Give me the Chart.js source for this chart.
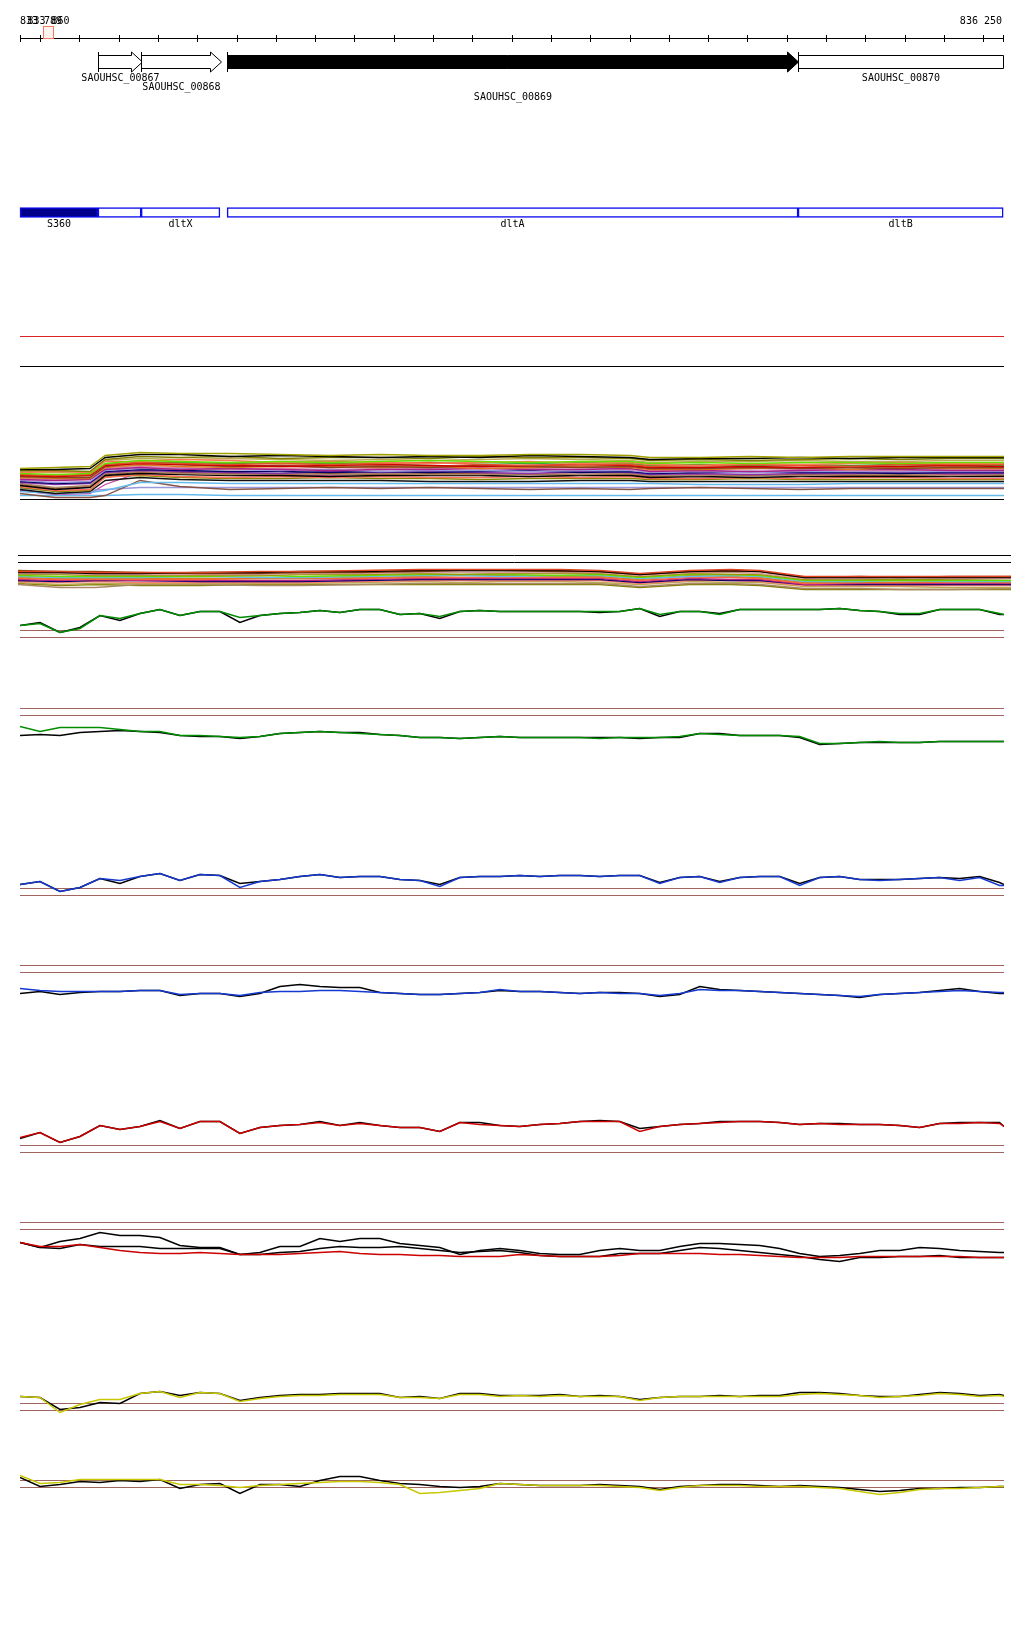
<!DOCTYPE html>
<html>
<head>
<meta charset="utf-8">
<title>dlt locus</title>
<script src="https://cdn.jsdelivr.net/npm/chart.js@4.4.1/dist/chart.umd.min.js"></script>
<style>
  body { margin: 0; background: #fff; }
  #page { position: relative; width: 1024px; height: 1640px; overflow: hidden; }
  #page canvas { position: absolute; left: 0; }
</style>
</head>
<body>
<div id="page">
  <canvas id="mapChart" width="1024" height="240"></canvas>
  <canvas id="band1" width="1024" height="175"></canvas>
  <canvas id="band2" width="1024" height="47"></canvas>
  <canvas id="g1" width="1024" height="50"></canvas>
  <canvas id="g2" width="1024" height="50"></canvas>
  <canvas id="b1" width="1024" height="45"></canvas>
  <canvas id="b2" width="1024" height="50"></canvas>
  <canvas id="r1" width="1024" height="55"></canvas>
  <canvas id="r2" width="1024" height="60"></canvas>
  <canvas id="y1" width="1024" height="40"></canvas>
  <canvas id="y2" width="1024" height="40"></canvas>
</div>
<script>
// Vista del locus dlt (coordenadas en pb)
const viewStart = 833789;
const viewEnd = 836250;

// Regla
const rulerFirst = 833839;
const rulerStep = 98.3;
const cursorRange = [833847, 833872];

// Genes
const geneNames = ['SAOUHSC_00867', 'SAOUHSC_00868', 'SAOUHSC_00869', 'SAOUHSC_00870'];
const geneStarts = [833984, 834092, 834307, 835735];
const geneEnds = [834094, 834292, 835735, 836520];
const selectedGene = 'SAOUHSC_00869';

// Dominios / operon
const domainNames = ['S360', '', 'dltX', 'dltA', 'dltB'];
const domainStarts = [833789, 833984, 834092, 834307, 835735];
const domainEnds = [833984, 834092, 834289, 835735, 836248];
const filledDomain = 'S360';

// Umbrales de las pistas de señal
const thresholds = [0, 7];

// Posiciones de muestreo (cada 50 pb)
const samplePos = [];
for (let p = viewStart; p < viewEnd; p += 50) samplePos.push(p);
samplePos.push(viewEnd);

// Pista verde 1
const g1Black = [12,15,5,10,22,17,24,28,22,26, 26,15,22,24,25,27,25,28,28,23, 24,19,26,27,26,26,26,26,26,25, 26,29,21,26,26,24,28,28,28,28, 28,29,27,26,23,23,28,28,28,23, 23];
const g1Green = [12,14,5,9,22,19,24,28,22,26, 26,20,22,24,25,27,25,28,28,23, 24,21,26,27,26,26,26,26,26,26, 26,29,23,26,26,23,28,28,28,28, 28,29,27,26,24,24,28,28,28,24, 23];
// Pista verde 2
const g2Black = [-20,-19,-20,-17,-16,-15,-16,-17,-20,-21, -21,-23,-21,-18,-17,-16,-17,-17,-19,-20, -22,-22,-23,-22,-21,-22,-22,-22,-22,-22, -22,-23,-22,-22,-18,-18,-20,-20,-20,-22, -29,-28,-27,-27,-27,-27,-26,-26,-26,-26, -26];
const g2Green = [-11,-16,-12,-12,-12,-14,-16,-16,-20,-20, -21,-22,-21,-18,-17,-16,-17,-18,-19,-20, -22,-22,-23,-22,-21,-22,-22,-22,-22,-23, -22,-22,-22,-21,-18,-19,-20,-20,-20,-21, -28,-28,-27,-26,-27,-27,-26,-26,-26,-26, -26];
// Pista azul 1
const b1Black = [11,14,4,8,17,12,19,22,15,21, 20,12,14,16,19,21,18,19,19,16, 15,11,18,19,19,20,19,20,20,19, 20,20,13,18,19,14,18,19,19,12, 18,19,16,16,16,17,18,17,19,13, 11];
const b1Blue = [11,14,4,8,17,15,19,22,15,21, 20,8,14,16,19,21,18,19,19,16, 15,9,18,19,19,20,19,20,20,19, 20,20,12,18,19,13,18,19,19,10, 18,19,16,15,16,17,18,15,18,10, 10];
// Pista azul 2
const b2Black = [-21,-19,-22,-20,-19,-19,-18,-18,-23,-21, -21,-24,-21,-14,-12,-14,-15,-15,-20,-21, -22,-22,-21,-20,-18,-19,-19,-20,-21,-20, -20,-21,-24,-22,-14,-17,-18,-19,-20,-21, -22,-23,-25,-22,-21,-20,-18,-16,-19,-21, -21];
const b2Blue = [-16,-18,-19,-19,-19,-19,-18,-18,-22,-21, -21,-23,-20,-19,-19,-18,-18,-19,-20,-21, -22,-22,-21,-20,-17,-19,-19,-20,-21,-20, -21,-21,-23,-21,-17,-18,-18,-19,-20,-21, -22,-23,-24,-22,-21,-20,-19,-18,-19,-20, -20];
// Pista roja 1
const r1Black = [14,20,10,16,27,23,26,32,24,31, 31,19,25,27,28,31,27,30,27,25, 25,21,30,30,27,26,28,29,31,32, 31,24,26,28,29,31,31,31,30,28, 29,29,28,28,27,25,29,30,30,30, 26];
const r1Red = [15,20,10,16,27,23,26,31,24,31, 31,19,25,27,28,30,27,29,27,25, 25,21,30,28,27,26,28,29,31,31, 31,21,26,28,29,30,31,31,30,28, 29,28,28,28,27,25,29,29,30,29, 26];
// Pista roja 2
const r2BlackA = [-13,-18,-12,-9,-3,-6,-6,-8,-16,-18, -18,-25,-23,-17,-17,-9,-12,-9,-9,-14, -16,-18,-25,-21,-19,-21,-24,-25,-25,-21, -19,-21,-21,-17,-14,-14,-15,-16,-19,-24, -27,-26,-24,-21,-21,-18,-19,-21,-22,-23, -23];
const r2BlackB = [-13,-18,-19,-15,-17,-17,-17,-19,-19,-19, -19,-25,-25,-23,-22,-19,-17,-18,-18,-17, -19,-21,-23,-22,-21,-23,-26,-27,-27,-27, -24,-24,-24,-21,-18,-19,-21,-23,-25,-27, -30,-32,-28,-28,-27,-27,-26,-28,-28,-28, -28];
const r2Red = [-13,-17,-17,-15,-18,-21,-23,-24,-24,-23, -24,-25,-25,-25,-24,-23,-22,-24,-25,-25, -26,-26,-27,-27,-27,-25,-26,-27,-27,-27, -26,-24,-24,-24,-24,-25,-25,-26,-27,-28, -28,-28,-27,-27,-27,-27,-27,-27,-28,-28, -28];
// Pista amarilla 1
const y1Black = [14,13,1,3,8,7,17,19,15,18, 17,10,13,15,16,16,17,17,17,13, 14,12,17,17,15,15,15,16,14,15, 14,11,13,14,14,15,14,15,15,18, 18,17,15,14,14,16,18,17,15,16, 15];
const y1Yellow = [14,13,-2,6,11,11,17,19,13,18, 17,9,12,14,15,15,16,16,16,13, 13,12,16,16,14,15,14,15,14,14, 14,10,13,14,14,14,14,14,14,16, 17,16,15,13,14,15,17,16,14,15, 14];
// Pista amarilla 2
const y2Black = [10,1,3,6,5,7,6,8,-1,3, 4,-6,3,3,1,7,11,11,7,4, 3,1,0,1,4,3,2,2,2,3, 2,1,-2,1,2,3,3,2,1,2, 1,0,-2,-4,-3,-1,-1,0,0,1, 1];
const y2Yellow = [12,4,5,8,8,8,8,8,3,3, 2,0,2,3,4,5,6,6,5,3, -6,-5,-3,-1,4,3,2,2,2,2, 1,0,-3,0,2,2,2,1,1,1, 0,-1,-4,-7,-5,-2,-1,-1,0,1, 1];

// Banda de perfiles 1 (muchas cepas)
const band1Pos = [833789, 833877, 833964, 834002, 834089, 834189, 834314, 834439, 834564, 834689, 834814, 834939, 835064, 835189, 835315, 835365, 835490, 835615, 835740, 835865, 835990, 836115, 836250];
const band1Refs = [0, 133];
const band1Limit = 163;
const band1Series = [
  [31,32,33,44,47,46,46,45,44,45,44,44,45,45,44,42,42,43,42,43,43,43,43],
  [30,30,31,42,45,45,43,44,43,42,43,42,44,43,42,40,41,41,42,41,42,42,42],
  [29,29,28,40,43,42,43,41,42,42,41,43,42,42,41,39,40,39,40,41,40,41,41],
  [26,25,26,36,39,38,37,38,37,38,39,38,37,38,38,36,37,36,37,37,36,37,37],
  [27,28,27,38,38,40,39,37,38,37,36,37,38,36,37,35,34,36,35,36,37,36,36],
  [25,24,25,35,37,36,35,36,35,36,37,35,34,35,35,33,34,35,34,33,35,35,35],
  [28,27,28,39,41,40,41,40,39,40,39,40,41,40,39,37,38,38,39,38,38,39,39],
  [24,23,24,34,36,35,34,33,34,35,34,33,34,35,34,32,32,33,32,33,33,34,33],
  [23,22,22,33,37,35,33,34,32,33,32,34,33,32,33,31,31,32,31,32,31,32,32],
  [22,21,21,32,35,33,32,33,33,32,33,31,32,33,32,30,30,31,32,30,32,31,31],
  [20,19,20,30,32,30,31,30,29,30,30,31,30,30,31,28,29,28,29,30,30,29,29],
  [21,20,20,31,33,32,30,31,32,31,31,32,31,32,30,29,30,31,30,29,29,30,30],
  [19,17,18,29,31,31,30,29,30,28,29,29,28,29,29,27,28,27,28,28,28,28,28],
  [18,16,17,28,30,29,28,28,27,28,27,28,29,27,28,26,27,28,27,27,26,27,27],
  [17,15,16,27,29,28,27,26,28,27,28,27,26,28,27,25,26,25,26,26,27,26,26],
  [16,12,14,26,28,26,25,26,25,26,25,25,26,25,26,24,24,25,24,25,25,24,25],
  [14,10,12,24,26,25,24,24,23,24,24,24,23,24,24,22,23,22,23,23,23,23,23],
  [15,11,13,25,27,27,26,25,26,25,26,26,25,25,25,23,24,24,25,24,24,24,24],
  [13,9,10,22,25,23,22,23,22,23,22,22,23,22,23,21,21,22,21,22,22,21,21],
  [12,8,9,23,24,22,21,21,22,21,21,20,21,21,21,20,20,21,20,20,20,20,20],
  [10,6,8,19,22,20,19,19,19,19,18,18,18,19,19,18,18,18,18,18,18,18,18],
  [8,6,7,9,17,17,16,16,16,16,16,16,16,16,16,16,15,15,15,16,16,16,16],
  [6,2,2,4,19,13,10,11,12,11,12,11,10,11,10,11,12,11,10,11,11,11,11],
  [11,9,9,10,12,12,12,12,12,12,12,12,12,12,12,12,12,12,12,12,12,12,12],
  [4,4,4,4,5,5,4,4,4,4,4,4,4,4,4,4,4,4,4,4,4,4,4],
  [9,5,6,15,27,26,26,25,24,26,25,26,26,25,26,24,25,24,25,25,26,25,25],
  [23,24,24,35,37,37,36,37,36,35,36,37,36,37,36,34,35,34,35,34,35,34,34],
  [21,22,22,32,34,35,34,34,35,34,33,34,34,33,34,32,33,33,32,33,33,33,32]
];

// Banda de perfiles 2
const band2Pos = [833789, 833893, 833980, 834091, 834240, 834389, 834488, 834637, 834785, 834884, 834984, 835132, 835231, 835330, 835454, 835554, 835628, 835739, 835876, 835975, 836099, 836250];
const band2Refs = [30, 37];
const band2Series = [
  [21,21,20,20,20,21,21,22,23,23,23,23,22,19,22,23,22,16,16,16,16,16],
  [20,20,19,19,20,20,21,21,22,22,22,22,21,18,21,22,21,15,15,15,15,15],
  [22,21,21,20,19,19,20,20,21,22,22,21,21,18,21,21,21,15,16,15,16,16],
  [19,19,18,18,18,18,19,19,20,20,20,20,20,17,20,20,19,14,14,15,14,14],
  [18,18,17,17,17,17,18,18,19,18,19,19,19,16,19,18,18,13,13,13,13,14],
  [17,16,16,16,16,17,16,17,18,18,18,17,18,15,18,18,17,12,12,12,12,12],
  [16,15,15,15,16,15,15,16,17,17,16,17,17,14,16,17,16,11,11,12,11,11],
  [15,14,14,14,14,14,14,15,16,17,17,16,16,13,17,16,15,10,10,10,11,10],
  [14,13,13,13,13,14,14,14,15,15,15,15,15,12,15,15,14,9,10,10,10,10],
  [13,12,13,12,12,12,12,13,14,14,14,14,14,11,14,13,13,8,9,9,9,9],
  [12,11,12,12,11,11,11,12,13,13,13,13,13,10,13,12,12,8,8,8,8,8],
  [11,10,11,10,10,10,10,11,12,12,12,12,12,9,12,12,11,7,7,7,7,7],
  [10,8,9,9,9,9,9,10,11,10,11,11,10,8,11,10,10,6,6,6,5,5],
  [8,5,5,8,8,7,7,8,9,9,9,9,9,6,9,9,8,4,4,3,3,4],
  [9,7,8,7,7,8,8,8,8,8,8,8,8,5,8,8,7,3,3,3,3,3]
];

const band1Colors = ['#a0a000','#000000','#808000','#66dd00','#ff7755','#e0502a','#bbaa55','#cc0000','#884422','#dd7722','#aa2288','#dd88aa','#9999dd','#000066','#8833aa','#aa8866','#000000','#a0522d','#ff6f5f','#8a8a00','#111111','#66bbee','#885544','#9999dd','#66bbee','#cc44aa','#33aa33','#c8a070'];
const band2Colors = ['#dd4422','#000000','#8b4513','#d8a0a0','#999900','#66dd00','#66bbee','#dd7722','#ff6347','#aa2288','#000066','#ff7f6f','#bbaa55','#aa8866','#808000'];

const BROWN = '#a0645f';
const GREEN = '#008c00';
const BLUE = '#1438d0';
const RED = '#cc0000';
const YELLOW = '#c8c800';
const MONO = '10px "DejaVu Sans Mono", "Liberation Mono", monospace';

// Ubicación de cada panel en la página (px)
const panels = {
  band1: { top: 330, zero: 499, left: 20, right: 20 },
  band2: { top: 548, zero: 592, left: 18, right: 13 },
  g1: { top: 595, zero: 637, left: 20, right: 20 },
  g2: { top: 700, zero: 715, left: 20, right: 20 },
  b1: { top: 860, zero: 895, left: 20, right: 20 },
  b2: { top: 955, zero: 972, left: 20, right: 20 },
  r1: { top: 1105, zero: 1152, left: 20, right: 20 },
  r2: { top: 1210, zero: 1229, left: 20, right: 20 },
  y1: { top: 1380, zero: 1410, left: 20, right: 20 },
  y2: { top: 1462, zero: 1487, left: 20, right: 20 }
};

function fmt(n) {
  return String(n).replace(/\B(?=(\d{3})+(?!\d))/g, ' ');
}

function flatLine(value, color) {
  return { xs: [viewStart, viewEnd], ys: [value, value], color: color, width: 1 };
}

function makeTrack(id, series, lineWidth) {
  const canvas = document.getElementById(id);
  const box = panels[id];
  canvas.style.top = box.top + 'px';
  const h = canvas.height;

  const datasets = series.map(s => ({
    data: s.xs.map((x, i) => ({ x: x, y: s.ys[i] })),
    borderColor: s.color,
    borderWidth: s.width || lineWidth,
    pointRadius: 0,
    fill: false,
    tension: 0
  }));

  new Chart(canvas, {
    type: 'line',
    data: { datasets: datasets },
    options: {
      responsive: false,
      animation: false,
      devicePixelRatio: 1,
      layout: { padding: { left: box.left, right: box.right, top: 0, bottom: 0 } },
      plugins: { legend: { display: false }, tooltip: { enabled: false } },
      scales: {
        x: { type: 'linear', display: false, min: viewStart, max: viewEnd },
        y: { type: 'linear', display: false, min: box.zero - box.top - h + 0.5, max: box.zero - box.top + 0.5 }
      }
    }
  });
}

function signalTrack(id, colored, color, blacks) {
  const series = [{ xs: samplePos, ys: colored, color: color }];
  blacks.forEach(b => series.push({ xs: samplePos, ys: b, color: '#000000' }));
  thresholds.forEach(t => series.push(flatLine(t, BROWN)));
  makeTrack(id, series, 1.5);
}

// Dibuja la regla, las flechas de genes y las etiquetas
const mapDecor = {
  id: 'mapDecor',
  afterDatasetsDraw(chart) {
    const ctx = chart.ctx;
    const xs = chart.scales.x;
    const area = chart.chartArea;
    ctx.save();

    // regla
    const ticks = [viewStart];
    for (let p = rulerFirst; p < viewEnd - 20; p += rulerStep) ticks.push(p);
    ticks.push(viewEnd);
    ctx.strokeStyle = '#000';
    ctx.lineWidth = 1;
    ctx.beginPath();
    ctx.moveTo(area.left, 38.5);
    ctx.lineTo(area.right - 1, 38.5);
    ticks.forEach(p => {
      const px = Math.min(Math.round(xs.getPixelForValue(p)), area.right - 1) + 0.5;
      ctx.moveTo(px, 35);
      ctx.lineTo(px, 42);
    });
    ctx.stroke();

    // cursor
    const c0 = Math.round(xs.getPixelForValue(cursorRange[0])) + 0.5;
    const c1 = Math.round(xs.getPixelForValue(cursorRange[1])) + 0.5;
    ctx.fillStyle = '#fff3ee';
    ctx.strokeStyle = '#f07a66';
    ctx.fillRect(c0, 26.5, c1 - c0, 12);
    ctx.strokeRect(c0, 26.5, c1 - c0, 12);

    ctx.font = MONO;
    ctx.fillStyle = '#000';
    ctx.textAlign = 'left';
    ctx.fillText(fmt(viewStart), area.left, 23.5);
    ctx.textAlign = 'right';
    ctx.fillText(fmt(viewEnd), area.right - 2, 23.5);
    // posición del cursor (se superpone a la etiqueta inicial)
    const cursorMid = Math.round((cursorRange[0] + cursorRange[1]) / 2);
    ctx.textAlign = 'center';
    ctx.fillText(fmt(cursorMid), (c0 + c1) / 2, 23.5);

    // genes
    const labelLane = [0, 1, 2, 0];
    const laneOffset = [18.5, 27.5, 38];
    const meta = chart.getDatasetMeta(0);
    meta.data.forEach((bar, i) => {
      const left = Math.round(Math.min(bar.base, bar.x)) + 0.5;
      const endPx = Math.max(bar.base, bar.x);
      const cut = geneEnds[i] > viewEnd;
      const right = Math.round(cut ? area.right - 1 : endPx) + 0.5;
      const y = Math.round(bar.y);
      const bh = 6.5, hh = 10, hl = 11;
      const headBase = right - hl;
      ctx.beginPath();
      if (cut) {
        ctx.rect(left, y - bh, right - left, bh * 2);
      } else {
        ctx.moveTo(left, y - bh);
        ctx.lineTo(headBase, y - bh);
        ctx.lineTo(headBase, y - hh);
        ctx.lineTo(right, y);
        ctx.lineTo(headBase, y + hh);
        ctx.lineTo(headBase, y + bh);
        ctx.lineTo(left, y + bh);
        ctx.closePath();
      }
      ctx.fillStyle = geneNames[i] === selectedGene ? '#000' : '#fff';
      ctx.fill();
      ctx.strokeStyle = '#000';
      ctx.stroke();
      ctx.beginPath();
      ctx.moveTo(left, y - hh);
      ctx.lineTo(left, y + hh);
      ctx.stroke();

      ctx.fillStyle = '#000';
      ctx.textAlign = 'center';
      ctx.fillText(geneNames[i], (left + right) / 2, y + laneOffset[labelLane[i]]);
    });

    // etiquetas de dominios
    const dmeta = chart.getDatasetMeta(1);
    dmeta.data.forEach((bar, i) => {
      if (!domainNames[i]) return;
      const cx = (bar.base + bar.x) / 2;
      ctx.fillText(domainNames[i], cx, bar.y + 14.5);
    });
    ctx.restore();
  }
};

function initMap() {
  const canvas = document.getElementById('mapChart');
  canvas.style.top = '0px';
  new Chart(canvas, {
    type: 'bar',
    data: {
      labels: ['genes', 'domains'],
      datasets: [
        {
          label: 'genes',
          data: geneStarts.map((s, i) => ({ y: 'genes', x: [s, geneEnds[i]] })),
          backgroundColor: 'rgba(0,0,0,0)',
          borderWidth: 0,
          barThickness: 13,
          clip: false
        },
        {
          label: 'domains',
          data: domainStarts.map((s, i) => ({ y: 'domains', x: [s, domainEnds[i]] })),
          backgroundColor: domainNames.map(n => n === filledDomain ? '#00008b' : '#ffffff'),
          borderColor: '#0a0aee',
          borderWidth: 1.5,
          borderSkipped: false,
          barThickness: 10,
          clip: false
        }
      ]
    },
    options: {
      indexAxis: 'y',
      responsive: false,
      animation: false,
      devicePixelRatio: 1,
      datasets: { bar: { grouped: false } },
      layout: { padding: { left: 20, right: 20, top: 61.5, bottom: 27.5 } },
      plugins: { legend: { display: false }, tooltip: { enabled: false } },
      scales: {
        x: { type: 'linear', display: false, min: viewStart, max: viewEnd },
        y: { type: 'category', display: false, offset: false }
      }
    },
    plugins: [mapDecor]
  });
}

function initBands() {
  const s1 = band1Series.map((ys, i) => ({ xs: band1Pos, ys: ys, color: band1Colors[i] }));
  band1Refs.forEach(v => s1.push(flatLine(v, '#000000')));
  s1.push(flatLine(band1Limit, '#dd2222'));
  makeTrack('band1', s1, 1.3);

  const s2 = band2Series.map((ys, i) => ({ xs: band2Pos, ys: ys, color: band2Colors[i] }));
  band2Refs.forEach(v => s2.push(flatLine(v, '#000000')));
  makeTrack('band2', s2, 1.3);
}

document.addEventListener('DOMContentLoaded', function() {
  initMap();
  initBands();
  signalTrack('g1', g1Green, GREEN, [g1Black]);
  signalTrack('g2', g2Green, GREEN, [g2Black]);
  signalTrack('b1', b1Blue, BLUE, [b1Black]);
  signalTrack('b2', b2Blue, BLUE, [b2Black]);
  signalTrack('r1', r1Red, RED, [r1Black]);
  signalTrack('r2', r2Red, RED, [r2BlackA, r2BlackB]);
  signalTrack('y1', y1Yellow, YELLOW, [y1Black]);
  signalTrack('y2', y2Yellow, YELLOW, [y2Black]);
});
</script>
</body>
</html>
